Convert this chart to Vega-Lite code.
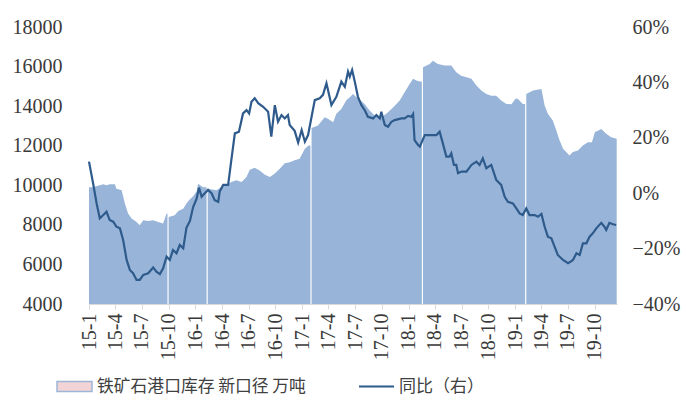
{
  "$schema": "https://vega.github.io/schema/vega-lite/v6.json",
  "width": 528,
  "height": 277,
  "autosize": "none",
  "padding": {"left": 89, "top": 27, "right": 69, "bottom": 99},
  "background": "white",
  "config": {
    "view": {"stroke": null},
    "font": "Liberation Serif",
    "axis": {"labelFont": "Liberation Serif", "labelColor": "#3A3A3A", "labelFontSize": 20, "grid": false, "title": null},
    "axisX": {"labelOverlap": false, "labelFlush": false, "labelBound": false}
  },
  "datasets": {
    "stock": [
      {"date": "2015-01-01", "stock": 9900},
      {"date": "2015-01-14", "stock": 9900},
      {"date": "2015-01-25", "stock": 9950},
      {"date": "2015-02-07", "stock": 10000},
      {"date": "2015-02-19", "stock": 10050},
      {"date": "2015-03-02", "stock": 10000},
      {"date": "2015-03-13", "stock": 10050},
      {"date": "2015-03-31", "stock": 10050},
      {"date": "2015-04-05", "stock": 9830},
      {"date": "2015-04-23", "stock": 9750},
      {"date": "2015-05-04", "stock": 9075},
      {"date": "2015-05-15", "stock": 8570},
      {"date": "2015-05-27", "stock": 8320},
      {"date": "2015-06-13", "stock": 8150},
      {"date": "2015-06-24", "stock": 7980},
      {"date": "2015-07-06", "stock": 8230},
      {"date": "2015-07-23", "stock": 8200},
      {"date": "2015-08-09", "stock": 8230},
      {"date": "2015-08-26", "stock": 8150},
      {"date": "2015-09-12", "stock": 8070},
      {"date": "2015-09-24", "stock": 8570},
      {"date": "2015-09-27", "stock": 8570},
      {"date": "2015-09-29", "stock": null},
      {"date": "2015-10-01", "stock": 8400},
      {"date": "2015-10-22", "stock": 8490},
      {"date": "2015-11-03", "stock": 8700},
      {"date": "2015-11-20", "stock": 8820},
      {"date": "2015-12-01", "stock": 9075},
      {"date": "2015-12-13", "stock": 9300},
      {"date": "2015-12-24", "stock": 9450},
      {"date": "2016-01-05", "stock": 9700},
      {"date": "2016-01-10", "stock": 10080},
      {"date": "2016-01-27", "stock": 9900},
      {"date": "2016-02-08", "stock": 9900},
      {"date": "2016-02-10", "stock": null},
      {"date": "2016-02-12", "stock": 9830},
      {"date": "2016-03-13", "stock": 9750},
      {"date": "2016-03-30", "stock": 9910},
      {"date": "2016-04-16", "stock": 10000},
      {"date": "2016-05-03", "stock": 10160},
      {"date": "2016-05-20", "stock": 10250},
      {"date": "2016-06-07", "stock": 10160},
      {"date": "2016-06-24", "stock": 10420},
      {"date": "2016-07-05", "stock": 10790},
      {"date": "2016-07-22", "stock": 10890},
      {"date": "2016-08-08", "stock": 10750},
      {"date": "2016-08-26", "stock": 10530},
      {"date": "2016-09-12", "stock": 10420},
      {"date": "2016-09-29", "stock": 10590},
      {"date": "2016-10-16", "stock": 10840},
      {"date": "2016-11-02", "stock": 11120},
      {"date": "2016-11-19", "stock": 11170},
      {"date": "2016-12-06", "stock": 11260},
      {"date": "2016-12-23", "stock": 11340},
      {"date": "2017-01-10", "stock": 11850},
      {"date": "2017-01-23", "stock": 12010},
      {"date": "2017-01-29", "stock": 12010},
      {"date": "2017-01-31", "stock": null},
      {"date": "2017-02-02", "stock": 12900},
      {"date": "2017-02-24", "stock": 13020},
      {"date": "2017-03-19", "stock": 13440},
      {"date": "2017-03-30", "stock": 13360},
      {"date": "2017-04-17", "stock": 13190},
      {"date": "2017-04-28", "stock": 13610},
      {"date": "2017-05-15", "stock": 13860},
      {"date": "2017-06-01", "stock": 14300},
      {"date": "2017-06-13", "stock": 14450},
      {"date": "2017-06-24", "stock": 14620},
      {"date": "2017-07-06", "stock": 14450},
      {"date": "2017-07-17", "stock": 14320},
      {"date": "2017-08-03", "stock": 14110},
      {"date": "2017-08-20", "stock": 13780},
      {"date": "2017-09-06", "stock": 13530},
      {"date": "2017-09-29", "stock": 13440},
      {"date": "2017-10-16", "stock": 13610},
      {"date": "2017-11-03", "stock": 13860},
      {"date": "2017-11-20", "stock": 14110},
      {"date": "2017-12-01", "stock": 14280},
      {"date": "2017-12-18", "stock": 14700},
      {"date": "2018-01-04", "stock": 15120},
      {"date": "2018-01-16", "stock": 15380},
      {"date": "2018-01-27", "stock": 15290},
      {"date": "2018-02-08", "stock": 15250},
      {"date": "2018-02-15", "stock": 15250},
      {"date": "2018-02-17", "stock": null},
      {"date": "2018-02-19", "stock": 15960},
      {"date": "2018-03-14", "stock": 16130},
      {"date": "2018-03-25", "stock": 16300},
      {"date": "2018-04-11", "stock": 16130},
      {"date": "2018-05-04", "stock": 16050},
      {"date": "2018-05-27", "stock": 16050},
      {"date": "2018-06-13", "stock": 15710},
      {"date": "2018-06-30", "stock": 15540},
      {"date": "2018-07-18", "stock": 15460},
      {"date": "2018-08-04", "stock": 15380},
      {"date": "2018-08-21", "stock": 15040},
      {"date": "2018-09-07", "stock": 14790},
      {"date": "2018-09-24", "stock": 14620},
      {"date": "2018-10-11", "stock": 14530},
      {"date": "2018-10-28", "stock": 14530},
      {"date": "2018-11-14", "stock": 14280},
      {"date": "2018-12-02", "stock": 14110},
      {"date": "2018-12-19", "stock": 14100},
      {"date": "2019-01-02", "stock": 14370},
      {"date": "2019-01-10", "stock": 14370},
      {"date": "2019-01-27", "stock": 14110},
      {"date": "2019-02-04", "stock": 14110},
      {"date": "2019-02-06", "stock": null},
      {"date": "2019-02-08", "stock": 14620},
      {"date": "2019-03-03", "stock": 14790},
      {"date": "2019-04-01", "stock": 14870},
      {"date": "2019-04-12", "stock": 14030},
      {"date": "2019-04-23", "stock": 13610},
      {"date": "2019-05-10", "stock": 13270},
      {"date": "2019-05-22", "stock": 12770},
      {"date": "2019-06-02", "stock": 12270},
      {"date": "2019-06-14", "stock": 11850},
      {"date": "2019-06-25", "stock": 11680},
      {"date": "2019-07-06", "stock": 11510},
      {"date": "2019-07-18", "stock": 11680},
      {"date": "2019-08-04", "stock": 11760},
      {"date": "2019-08-21", "stock": 12010},
      {"date": "2019-09-07", "stock": 12180},
      {"date": "2019-09-21", "stock": 12180},
      {"date": "2019-10-01", "stock": 12680},
      {"date": "2019-10-23", "stock": 12850},
      {"date": "2019-11-09", "stock": 12600},
      {"date": "2019-11-26", "stock": 12430},
      {"date": "2019-12-15", "stock": 12350}
    ],
    "yoy": [
      {"date": "2015-01-01", "yoy": 0.114},
      {"date": "2015-01-15", "yoy": 0.036},
      {"date": "2015-01-27", "yoy": -0.036},
      {"date": "2015-02-07", "yoy": -0.091},
      {"date": "2015-02-19", "yoy": -0.079},
      {"date": "2015-03-02", "yoy": -0.067},
      {"date": "2015-03-13", "yoy": -0.097},
      {"date": "2015-03-25", "yoy": -0.103},
      {"date": "2015-04-05", "yoy": -0.121},
      {"date": "2015-04-17", "yoy": -0.127},
      {"date": "2015-04-28", "yoy": -0.169},
      {"date": "2015-05-10", "yoy": -0.241},
      {"date": "2015-05-21", "yoy": -0.277},
      {"date": "2015-06-01", "yoy": -0.289},
      {"date": "2015-06-13", "yoy": -0.313},
      {"date": "2015-06-24", "yoy": -0.313},
      {"date": "2015-07-06", "yoy": -0.295},
      {"date": "2015-07-23", "yoy": -0.289},
      {"date": "2015-08-09", "yoy": -0.268},
      {"date": "2015-08-20", "yoy": -0.283},
      {"date": "2015-09-01", "yoy": -0.292},
      {"date": "2015-09-12", "yoy": -0.271},
      {"date": "2015-09-24", "yoy": -0.229},
      {"date": "2015-10-05", "yoy": -0.241},
      {"date": "2015-10-16", "yoy": -0.205},
      {"date": "2015-10-28", "yoy": -0.217},
      {"date": "2015-11-08", "yoy": -0.187},
      {"date": "2015-11-20", "yoy": -0.199},
      {"date": "2015-12-01", "yoy": -0.125},
      {"date": "2015-12-13", "yoy": -0.100},
      {"date": "2015-12-24", "yoy": -0.050},
      {"date": "2016-01-05", "yoy": -0.020},
      {"date": "2016-01-13", "yoy": 0.020},
      {"date": "2016-01-22", "yoy": -0.013},
      {"date": "2016-02-02", "yoy": 0.000},
      {"date": "2016-02-13", "yoy": 0.012},
      {"date": "2016-02-25", "yoy": 0.000},
      {"date": "2016-03-07", "yoy": -0.025},
      {"date": "2016-03-19", "yoy": -0.031},
      {"date": "2016-03-24", "yoy": 0.006},
      {"date": "2016-04-05", "yoy": 0.030},
      {"date": "2016-04-22", "yoy": 0.030},
      {"date": "2016-05-03", "yoy": 0.120},
      {"date": "2016-05-15", "yoy": 0.216},
      {"date": "2016-05-29", "yoy": 0.222},
      {"date": "2016-06-12", "yoy": 0.288},
      {"date": "2016-06-24", "yoy": 0.300},
      {"date": "2016-07-03", "yoy": 0.288},
      {"date": "2016-07-11", "yoy": 0.330},
      {"date": "2016-07-22", "yoy": 0.343},
      {"date": "2016-08-03", "yoy": 0.325},
      {"date": "2016-08-20", "yoy": 0.312},
      {"date": "2016-09-06", "yoy": 0.294},
      {"date": "2016-09-17", "yoy": 0.204},
      {"date": "2016-09-29", "yoy": 0.318},
      {"date": "2016-10-10", "yoy": 0.258},
      {"date": "2016-10-22", "yoy": 0.282},
      {"date": "2016-11-02", "yoy": 0.270},
      {"date": "2016-11-13", "yoy": 0.282},
      {"date": "2016-11-19", "yoy": 0.246},
      {"date": "2016-12-06", "yoy": 0.225},
      {"date": "2016-12-18", "yoy": 0.183},
      {"date": "2016-12-30", "yoy": 0.228},
      {"date": "2017-01-10", "yoy": 0.186},
      {"date": "2017-01-21", "yoy": 0.210},
      {"date": "2017-02-02", "yoy": 0.276},
      {"date": "2017-02-13", "yoy": 0.336},
      {"date": "2017-03-02", "yoy": 0.343},
      {"date": "2017-03-13", "yoy": 0.355},
      {"date": "2017-03-25", "yoy": 0.397},
      {"date": "2017-04-11", "yoy": 0.318},
      {"date": "2017-04-28", "yoy": 0.348},
      {"date": "2017-05-15", "yoy": 0.403},
      {"date": "2017-05-27", "yoy": 0.384},
      {"date": "2017-06-07", "yoy": 0.439},
      {"date": "2017-06-13", "yoy": 0.421},
      {"date": "2017-06-21", "yoy": 0.445},
      {"date": "2017-06-30", "yoy": 0.403},
      {"date": "2017-07-11", "yoy": 0.348},
      {"date": "2017-07-23", "yoy": 0.318},
      {"date": "2017-08-03", "yoy": 0.300},
      {"date": "2017-08-14", "yoy": 0.276},
      {"date": "2017-09-01", "yoy": 0.270},
      {"date": "2017-09-12", "yoy": 0.282},
      {"date": "2017-09-24", "yoy": 0.270},
      {"date": "2017-09-29", "yoy": 0.294},
      {"date": "2017-10-11", "yoy": 0.246},
      {"date": "2017-10-22", "yoy": 0.240},
      {"date": "2017-11-03", "yoy": 0.258},
      {"date": "2017-11-14", "yoy": 0.264},
      {"date": "2017-12-07", "yoy": 0.270},
      {"date": "2017-12-18", "yoy": 0.270},
      {"date": "2017-12-30", "yoy": 0.279},
      {"date": "2018-01-10", "yoy": 0.276},
      {"date": "2018-01-16", "yoy": 0.286},
      {"date": "2018-01-21", "yoy": 0.192},
      {"date": "2018-02-02", "yoy": 0.174},
      {"date": "2018-02-08", "yoy": 0.168},
      {"date": "2018-02-25", "yoy": 0.210},
      {"date": "2018-03-14", "yoy": 0.210},
      {"date": "2018-04-06", "yoy": 0.210},
      {"date": "2018-04-17", "yoy": 0.222},
      {"date": "2018-04-28", "yoy": 0.180},
      {"date": "2018-05-10", "yoy": 0.132},
      {"date": "2018-05-21", "yoy": 0.132},
      {"date": "2018-05-27", "yoy": 0.144},
      {"date": "2018-06-05", "yoy": 0.102},
      {"date": "2018-06-13", "yoy": 0.102},
      {"date": "2018-06-19", "yoy": 0.072},
      {"date": "2018-07-01", "yoy": 0.078},
      {"date": "2018-07-18", "yoy": 0.078},
      {"date": "2018-08-04", "yoy": 0.102},
      {"date": "2018-08-21", "yoy": 0.114},
      {"date": "2018-09-01", "yoy": 0.102},
      {"date": "2018-09-12", "yoy": 0.126},
      {"date": "2018-09-24", "yoy": 0.090},
      {"date": "2018-10-11", "yoy": 0.102},
      {"date": "2018-10-28", "yoy": 0.048},
      {"date": "2018-11-14", "yoy": 0.030},
      {"date": "2018-11-26", "yoy": -0.013},
      {"date": "2018-12-07", "yoy": -0.031},
      {"date": "2018-12-24", "yoy": -0.037},
      {"date": "2019-01-05", "yoy": -0.055},
      {"date": "2019-01-16", "yoy": -0.073},
      {"date": "2019-01-27", "yoy": -0.079},
      {"date": "2019-02-08", "yoy": -0.055},
      {"date": "2019-02-19", "yoy": -0.079},
      {"date": "2019-03-09", "yoy": -0.079},
      {"date": "2019-03-20", "yoy": -0.085},
      {"date": "2019-04-01", "yoy": -0.075},
      {"date": "2019-04-12", "yoy": -0.121},
      {"date": "2019-04-23", "yoy": -0.157},
      {"date": "2019-05-05", "yoy": -0.163},
      {"date": "2019-05-16", "yoy": -0.193},
      {"date": "2019-05-27", "yoy": -0.223},
      {"date": "2019-06-14", "yoy": -0.241},
      {"date": "2019-07-01", "yoy": -0.253},
      {"date": "2019-07-10", "yoy": -0.247},
      {"date": "2019-07-18", "yoy": -0.241},
      {"date": "2019-07-30", "yoy": -0.217},
      {"date": "2019-08-10", "yoy": -0.223},
      {"date": "2019-08-21", "yoy": -0.181},
      {"date": "2019-09-02", "yoy": -0.181},
      {"date": "2019-09-13", "yoy": -0.157},
      {"date": "2019-09-24", "yoy": -0.145},
      {"date": "2019-10-06", "yoy": -0.127},
      {"date": "2019-10-23", "yoy": -0.107},
      {"date": "2019-11-03", "yoy": -0.121},
      {"date": "2019-11-09", "yoy": -0.133},
      {"date": "2019-11-20", "yoy": -0.107},
      {"date": "2019-12-02", "yoy": -0.112},
      {"date": "2019-12-13", "yoy": -0.115}
    ]
  },
  "encoding": {
    "x": {
      "field": "date", "type": "temporal",
      "scale": {"type": "utc", "domain": [{"year": 2015, "month": 1, "date": 1, "utc": true}, {"year": 2019, "month": 12, "date": 16, "utc": true}]},
      "axis": {
        "tickCount": {"interval": "month", "step": 3},
        "labelExpr": "utcFormat(datum.value, '%y-%-m')",
        "labelAngle": -90, "labelOverlap": false, "labelFlush": false, "labelBound": false,
        "domainColor": "#D9D9D9", "tickColor": "#D9D9D9", "tickSize": 5, "labelPadding": 4, "zindex": 1
      }
    }
  },
  "layer": [
    {
      "data": {"name": "stock"},
      "mark": {"type": "area", "opacity": 1, "color": "#98B5D9", "clip": true, "invalid": "break-paths-show-domains"},
      "encoding": {
        "y": {
          "field": "stock", "type": "quantitative",
          "scale": {"domain": [4000, 18000], "nice": false, "zero": false},
          "axis": {"orient": "left", "values": [4000, 6000, 8000, 10000, 12000, 14000, 16000, 18000], "format": "d", "domain": false, "ticks": false, "labelPadding": 27}
        }
      }
    },
    {
      "data": {"values": []},
      "mark": {"type": "area", "stroke": "#9DB6D8", "strokeWidth": 1.5},
      "encoding": {
        "fill": {
          "datum": "铁矿石港口库存 新口径 万吨", "type": "nominal",
          "scale": {"range": ["#F2D4D7"]},
          "legend": {
            "orient": "none", "legendX": -33, "legendY": 341, "title": null,
            "symbolType": "M-1,-0.28H1V0.28H-1Z", "symbolSize": 1225, "symbolStrokeColor": "#9DB6D8", "symbolStrokeWidth": 1.5,
            "labelFont": "Noto Sans CJK SC", "labelFontSize": 16.8, "labelColor": "#404040", "labelOffset": 4, "labelLimit": 400
          }
        }
      }
    },
    {
      "data": {"name": "yoy"},
      "mark": {"type": "line", "strokeWidth": 2.2},
      "encoding": {
        "y": {
          "field": "yoy", "type": "quantitative",
          "scale": {"domain": [-0.4, 0.6], "nice": false, "zero": false},
          "axis": {"orient": "right", "values": [-0.4, -0.2, 0, 0.2, 0.4, 0.6], "format": ".0%", "domain": false, "ticks": false, "labelPadding": 15}
        },
        "stroke": {
          "datum": "同比（右）", "type": "nominal",
          "scale": {"range": ["#2E5B8C"]},
          "legend": {
            "orient": "none", "legendX": 269, "legendY": 341, "title": null,
            "symbolType": "stroke", "symbolSize": 1225, "symbolStrokeWidth": 2,
            "labelFont": "Noto Sans CJK SC", "labelFontSize": 17, "labelColor": "#404040", "labelOffset": 4, "labelLimit": 400
          }
        }
      }
    }
  ],
  "resolve": {"scale": {"y": "independent", "fill": "independent", "stroke": "independent"}}
}
